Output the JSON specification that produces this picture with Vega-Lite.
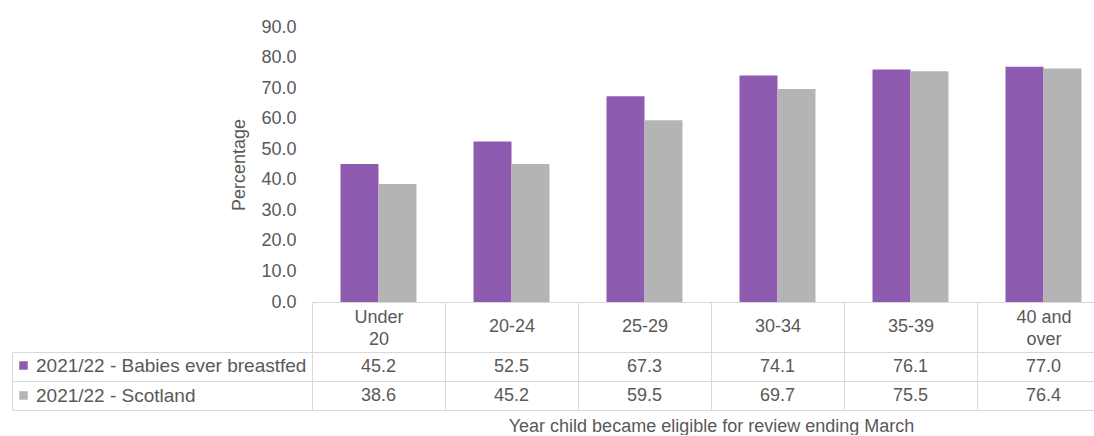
{
  "$schema": "https://vega.github.io/schema/vega-lite/v6.json",
  "padding": {"left": 11, "top": 18, "right": 0, "bottom": 0},
  "background": "white",
  "config": {
    "font": "Liberation Sans",
    "view": {"stroke": null},
    "axis": {"labelColor": "#595959", "titleColor": "#595959", "labelFontSize": 18, "titleFontSize": 18, "titleFontWeight": "normal", "domainColor": "#d9d9d9", "tickColor": "#d9d9d9", "gridColor": "#d9d9d9", "labelFont": "Liberation Sans", "titleFont": "Liberation Sans"}
  },
  "data": {"values": [
    {"age": "Under 20", "series": "2021/22 - Babies ever breastfed", "pct": 45.2},
    {"age": "20-24", "series": "2021/22 - Babies ever breastfed", "pct": 52.5},
    {"age": "25-29", "series": "2021/22 - Babies ever breastfed", "pct": 67.3},
    {"age": "30-34", "series": "2021/22 - Babies ever breastfed", "pct": 74.1},
    {"age": "35-39", "series": "2021/22 - Babies ever breastfed", "pct": 76.1},
    {"age": "40 and over", "series": "2021/22 - Babies ever breastfed", "pct": 77.0},
    {"age": "Under 20", "series": "2021/22 - Scotland", "pct": 38.6},
    {"age": "20-24", "series": "2021/22 - Scotland", "pct": 45.2},
    {"age": "25-29", "series": "2021/22 - Scotland", "pct": 59.5},
    {"age": "30-34", "series": "2021/22 - Scotland", "pct": 69.7},
    {"age": "35-39", "series": "2021/22 - Scotland", "pct": 75.5},
    {"age": "40 and over", "series": "2021/22 - Scotland", "pct": 76.4}
  ]},
  "bounds": "flush",
  "spacing": 50,
  "resolve": {"scale": {"x": "independent", "y": "independent"}, "legend": {"color": "independent"}},
  "vconcat": [
    {
      "width": 798,
      "height": 275,
      "mark": {"type": "bar"},
      "encoding": {
        "x": {"field": "age", "type": "nominal", "sort": ["Under 20", "20-24", "25-29", "30-34", "35-39", "40 and over"],
              "scale": {"paddingInner": 0.4286, "paddingOuter": 0.2143},
              "axis": {"labels": false, "ticks": false, "title": null, "domain": true, "grid": false}},
        "xOffset": {"field": "series", "type": "nominal", "sort": ["2021/22 - Babies ever breastfed", "2021/22 - Scotland"]},
        "y": {"field": "pct", "type": "quantitative", "scale": {"domain": [0, 90], "nice": false},
              "axis": {"values": [0, 10, 20, 30, 40, 50, 60, 70, 80, 90], "format": ".1f", "domain": false, "ticks": false, "grid": false, "labelPadding": 16, "title": "Percentage", "titlePadding": 12}},
        "color": {"field": "series", "type": "nominal",
                  "scale": {"domain": ["2021/22 - Babies ever breastfed", "2021/22 - Scotland"], "range": ["#8e5bb0", "#b4b4b4"]},
                  "legend": {"orient": "none", "legendX": -298, "legendY": 329, "title": null, "symbolType": "square", "symbolSize": 72, "symbolStrokeWidth": 0, "symbolOpacity": 1, "labelFontSize": 19, "labelColor": "#595959", "labelFont": "Liberation Sans", "labelOffset": 3, "rowPadding": 10, "padding": 0, "labelLimit": 400}}
      }
    },
    {
      "width": 798,
      "height": 58,
      "mark": {"type": "text", "fontSize": 18, "color": "#595959"},
      "encoding": {
        "x": {"field": "age", "type": "nominal", "sort": ["Under 20", "20-24", "25-29", "30-34", "35-39", "40 and over"],
              "scale": {"paddingInner": 0, "paddingOuter": 0},
              "axis": {"orient": "top", "tickBand": "extent", "tickSize": 50, "grid": true, "domain": false, "labelBaseline": "middle",
                       "labelPadding": {"condition": {"test": "datum.value == 'Under 20' || datum.value == '40 and over'", "value": -15}, "value": -24.5},
                       "labelAngle": 0, "labelLineHeight": 22, "labelOverlap": false,
                       "labelExpr": "datum.value == 'Under 20' ? ['Under', '20'] : datum.value == '40 and over' ? ['40 and', 'over'] : datum.value",
                       "title": "Year child became eligible for review ending March", "titleY": 74, "titleBaseline": "middle"}},
        "y": {"field": "series", "type": "nominal", "sort": ["2021/22 - Babies ever breastfed", "2021/22 - Scotland"],
              "scale": {"paddingInner": 0, "paddingOuter": 0},
              "axis": {"labels": false, "title": null, "tickBand": "extent", "tickSize": -300, "offset": 300, "grid": true, "domain": true}},
        "text": {"field": "pct", "type": "quantitative", "format": ".1f"}
      }
    }
  ]
}
